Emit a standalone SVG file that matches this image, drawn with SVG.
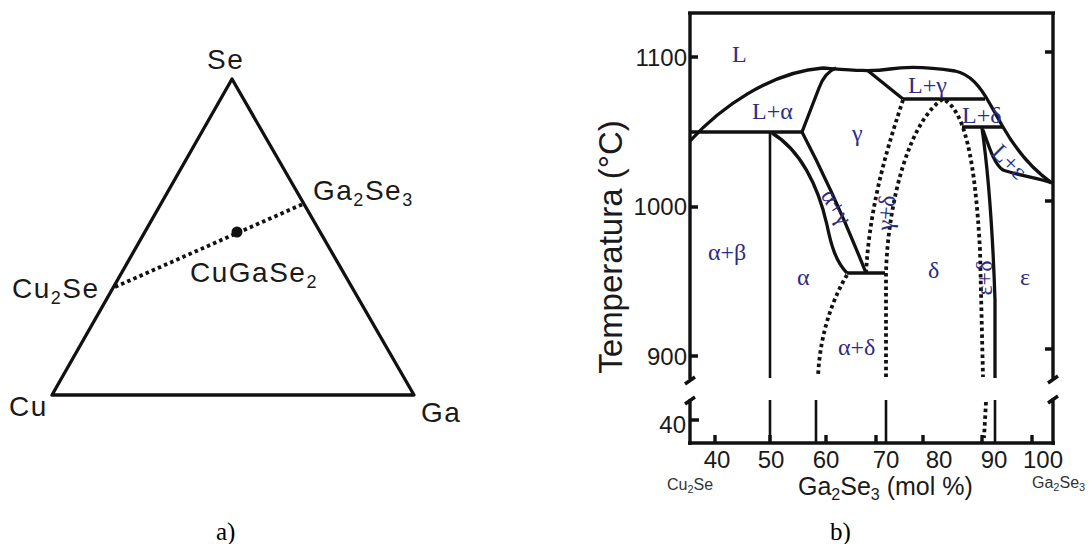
<svg xmlns="http://www.w3.org/2000/svg" width="1092" height="544" viewBox="0 0 1092 544">
<style>
.ln{fill:none;stroke:#111;stroke-width:3.3;stroke-linecap:butt;stroke-linejoin:round}
.thin{fill:none;stroke:#111;stroke-width:2.6}
.dot{fill:none;stroke:#111;stroke-width:3.8;stroke-dasharray:3.5 3.2}
.ax{fill:none;stroke:#111;stroke-width:3.4}
.sans{font-family:"Liberation Sans",Arial,sans-serif;fill:#1a1a1a}
.ph{font-family:"Liberation Serif","Times New Roman",serif;fill:#2d2d88;font-size:24px}
.cap{font-family:"Liberation Serif","Times New Roman",serif;fill:#000;font-size:25px}
</style>
<rect width="1092" height="544" fill="#fff"/>

<g id="ternary">
  <polygon class="ln" points="232,79 52,395 414,395" stroke-width="3.4" stroke-linejoin="miter"/>
  <line class="dot" x1="115" y1="287" x2="303" y2="204" stroke-width="4.8" stroke-dasharray="4 3"/>
  <circle cx="237" cy="232" r="5.5" fill="#111"/>
  <g class="sans" font-size="28" letter-spacing="1.5">
    <text x="207" y="69">Se</text>
    <text x="9" y="416">Cu</text>
    <text x="421" y="422">Ga</text>
    <text x="12" y="298">Cu<tspan font-size="18" dy="6">2</tspan><tspan dy="-6">Se</tspan></text>
    <text x="313" y="200">Ga<tspan font-size="18" dy="6">2</tspan><tspan dy="-6">Se</tspan><tspan font-size="18" dy="6">3</tspan></text>
    <text x="190" y="282">CuGaSe<tspan font-size="18" dy="6">2</tspan></text>
  </g>
  <text class="cap" x="216" y="540">a)</text>
</g>

<g id="phase-diagram">
  <g id="frame">
    <path class="ax" d="M688,13 H1055"/>
    <path class="ax" d="M690,13 V379 M685,384 L695,377 M685,404 L695,397 M690,399 V445"/>
    <path class="ax" d="M688,443 H1055"/>
    <path class="ax" d="M1053,13 V379 M1048,383 L1058,376 M1048,403 L1058,396 M1053,398 V445"/>
    <path class="ax" d="M690,57 h8 M690,207 h8 M690,356 h8 M690,420 h9 M1053,52 h-8 M1053,201 h-8 M1053,349 h-8"/>
    <path class="ax" d="M715,443 V435 M770,443 V435 M826,443 V435 M876,443 V435 M923,443 V435 M982,443 V435 M1032,443 V435"/>
  </g>
  <g id="axis-labels" class="sans" font-size="24">
    <g text-anchor="end">
      <text x="687" y="66">1100</text>
      <text x="687" y="215">1000</text>
      <text x="687" y="365">900</text>
      <text x="686" y="433">40</text>
    </g>
    <g text-anchor="middle">
      <text x="717" y="468">40</text>
      <text x="771" y="468">50</text>
      <text x="826" y="468">60</text>
      <text x="886" y="468">70</text>
      <text x="939" y="468">80</text>
      <text x="994" y="468">90</text>
      <text x="1043" y="468">100</text>
    </g>
    <text x="622" y="247" font-size="33" text-anchor="middle" transform="rotate(-90 622 247)">Temperatura (°C)</text>
    <text x="798" y="495" font-size="25">Ga<tspan font-size="16" dy="5">2</tspan><tspan dy="-5">Se</tspan><tspan font-size="16" dy="5">3</tspan><tspan dy="-5"> (mol %)</tspan></text>
    <text x="667" y="490" font-size="16" fill="#333">Cu<tspan font-size="11" dy="3">2</tspan><tspan dy="-3">Se</tspan></text>
    <text x="1032" y="488" font-size="16" fill="#333">Ga<tspan font-size="11" dy="3">2</tspan><tspan dy="-3">Se</tspan><tspan font-size="11" dy="3">3</tspan></text>
  </g>

  <g id="phase-lines">
    <path class="ln" d="M690,141 C720,108 770,72 823,68 C850,70 870,72 890,69 C910,66 935,68 955,71 C970,74 980,86 990,104 L1003,127 C1015,148 1030,168 1052,183"/>
    <path class="ln" d="M690,132 H802"/>
    <path class="ln" d="M802,132 L819,88 Q825,72 836,68"/>
    <path class="ln" d="M867,70 L903,99"/>
    <path class="ln" d="M903,99 H985"/>
    <path class="ln" d="M962,127 H1003"/>
    <path class="thin" d="M770,132 V378"/>
    <path class="ln" d="M772,133 C800,150 818,185 827,225 C831,245 836,262 847,273"/>
    <path class="ln" d="M802,132 Q835,195 866,273"/>
    <path class="ln" d="M847,273 H885"/>
    <path class="ln" d="M982,128 C988,170 993,240 995,300 L995,378"/>
    <path class="ln" d="M983,130 C990,150 995,165 1003,170 C1020,176 1040,178 1052,183"/>
    <path class="dot" d="M847,275 C835,295 820,330 818,377"/>
    <path class="dot" d="M903,100 C890,140 870,200 866,273"/>
    <path class="dot" d="M886,377 L886,273 C888,200 910,120 943,99 C965,110 975,160 980,250 L983,377"/>
    <path class="thin" d="M770,400 V443 M816,400 V443 M886,400 V443 M995,400 V443" stroke-width="3"/>
    <path class="dot" d="M986,402 L984,438"/>
  </g>

  <g id="phase-labels">
    <text class="ph" x="732" y="62">L</text>
    <text class="ph" x="752" y="119">L+α</text>
    <text class="ph" x="852" y="141">γ</text>
    <text class="ph" x="908" y="93">L+γ</text>
    <text class="ph" x="962" y="123" font-size="16">L+δ</text>
    <text class="ph" x="708" y="260">α+β</text>
    <text class="ph" x="797" y="285">α</text>
    <text class="ph" x="838" y="355">α+δ</text>
    <text class="ph" x="928" y="278">δ</text>
    <text class="ph" x="1020" y="285">ε</text>
    <text class="ph" x="835" y="214" font-size="20" text-anchor="middle" transform="rotate(58 835 208)">α+γ</text>
    <text class="ph" x="888" y="219" font-size="20" text-anchor="middle" transform="rotate(-85 888 213)">γ+δ</text>
    <text class="ph" x="987" y="283" font-size="16" text-anchor="middle" transform="rotate(-90 987 278)">ε+δ</text>
    <text class="ph" x="1008" y="169" font-size="19" text-anchor="middle" transform="rotate(45 1008 163)">L+ε</text>
  </g>
  <text class="cap" x="830" y="540">b)</text>
</g>
</svg>
